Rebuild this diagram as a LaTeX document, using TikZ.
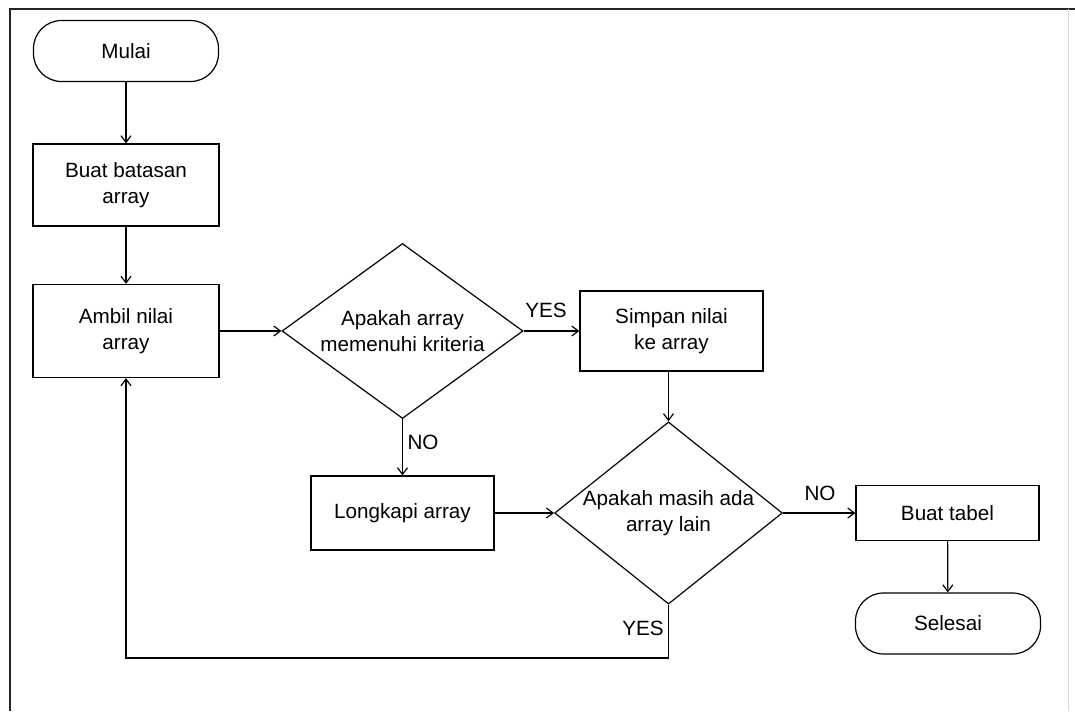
\documentclass[tikz,border=0pt]{standalone}
\usepackage{fontspec}
\setmainfont{Liberation Sans}
\usetikzlibrary{shapes.geometric,arrows.meta}
\begin{document}
\begin{tikzpicture}[x=0.75pt,y=-0.75pt,
  font=\fontsize{15.5}{19.5}\selectfont,
  proses/.style={draw,line width=0.9pt,rectangle,inner sep=0pt,align=center,minimum width=137.25pt},
  terminal/.style={draw,line width=0.9pt,rectangle,rounded corners=21pt,inner sep=0pt,minimum width=138.75pt,minimum height=45.75pt},
  keputusan/.style={draw,line width=0.9pt,diamond,inner sep=0pt,align=center},
  alur/.style={line width=0.9pt,-{Straight Barb[length=5pt,width=7.5pt]}}]

\useasboundingbox (0,0) rectangle (1075,711);
\draw[line width=1.4pt,black!85] (10,711) -- (10,9) -- (1075,9);
\draw[black!15] (1068,9) -- (1068,711);

\node[terminal] (mulai) at (126,51) {Mulai};
\node[proses,minimum width=139.5pt,minimum height=61.5pt] (batasan) at (126,185) {Buat batasan\\array};
\node[proses,minimum width=139.5pt,minimum height=69.75pt] (ambil) at (126,331) {Ambil nilai\\array};
\node[keputusan,aspect=1.38,minimum width=180.75pt,minimum height=131.25pt] (cek1) at (402.5,331) {Apakah array\\memenuhi kriteria};
\node[proses,minimum height=60pt] (simpan) at (671.5,331) {Simpan nilai\\ke array};
\node[proses,minimum height=55.5pt] (lengkapi) at (402.5,513) {Longkapi array};
\node[keputusan,aspect=1.25,minimum width=170.25pt,minimum height=136.5pt] (cek2) at (668.5,513) {Apakah masih ada\\array lain};
\node[proses,minimum height=41.25pt] (tabel) at (947.5,513) {Buat tabel};
\node[terminal] (selesai) at (948,623.5) {Selesai};

%%%%%%%%%%%%%%%%%%%%%%%%%%%%%%%%%%%%%%%%%%%%
\node (ya1) at (546,310) {YES};
\node (tidak1) at (423,442) {NO};
\node (tidak2) at (820,493) {NO};
\node (ya2) at (643,628) {YES};
\coordinate (belok) at (126,658);

\draw[alur] (mulai) -- (batasan);
\draw[alur] (batasan) -- (ambil);
\draw[alur] (ambil) -- (cek1);
\draw[alur] (cek1) -- (simpan);
\draw[alur] (cek1) -- (lengkapi);
\draw[alur] (simpan.south -| cek2.north) -- (cek2.north);
\draw[alur] (lengkapi) -- (cek2);
\draw[alur] (cek2) -- (tabel);
\draw[alur] (tabel) -- (selesai);
\draw[alur] (cek2.south) |- (belok) -- (ambil.south);

\end{tikzpicture}
\end{document}
